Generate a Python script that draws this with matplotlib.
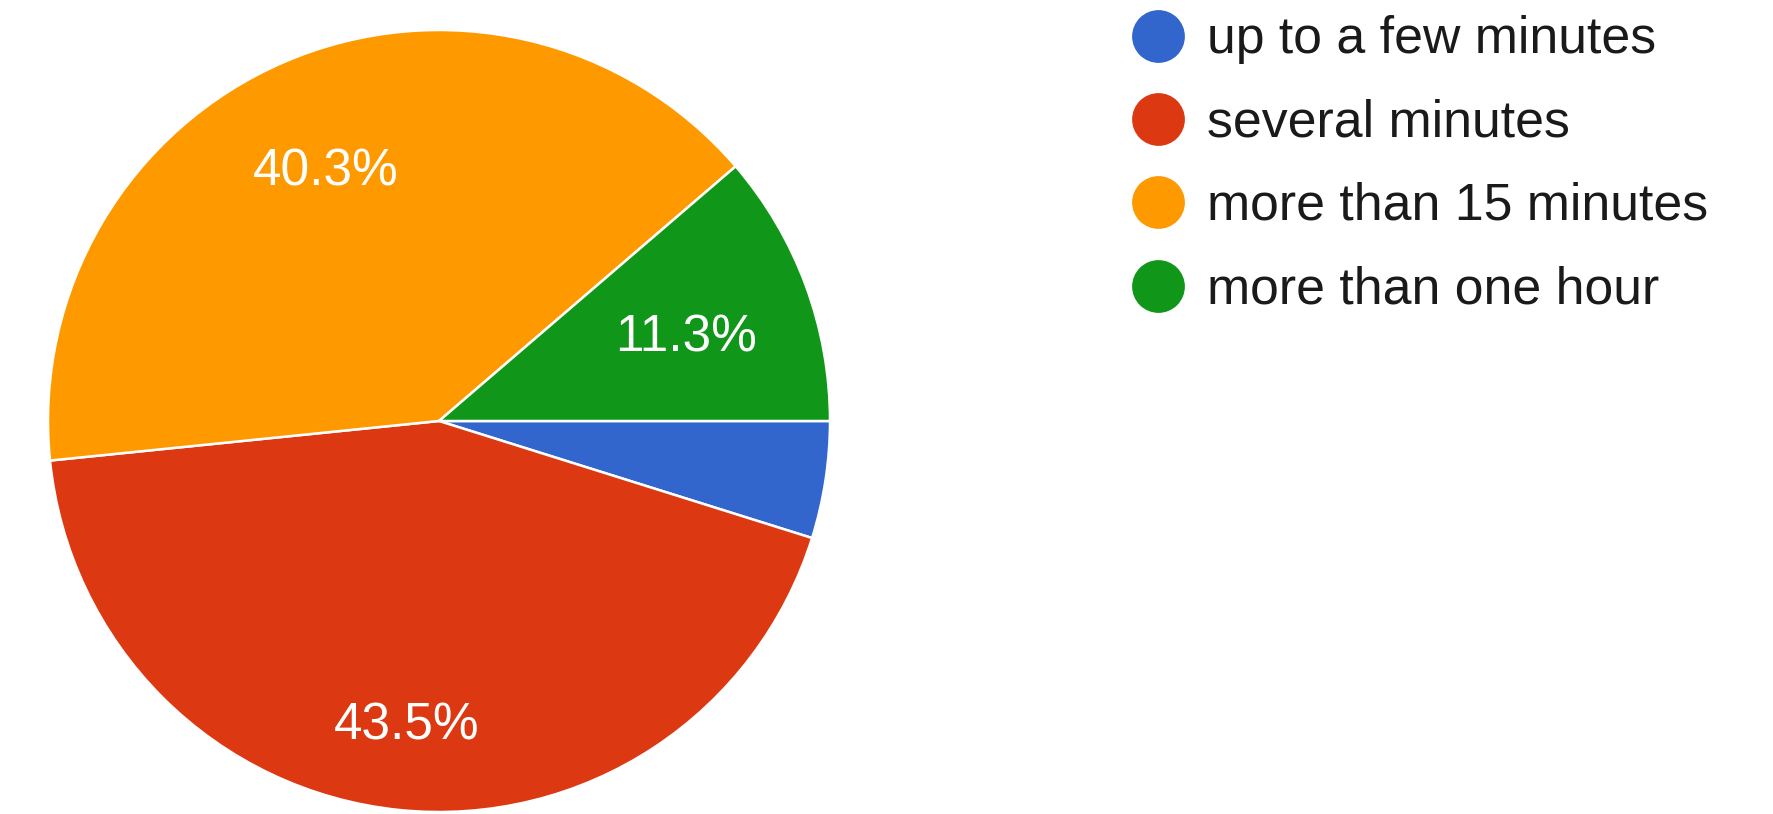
import matplotlib
matplotlib.use("Agg")
import numpy as np
import matplotlib.pyplot as plt

# survey answers (counts out of 124 responses)
labels = ["up to a few minutes", "several minutes", "more than 15 minutes", "more than one hour"]
counts = [6, 54, 50, 14]
colors = ["#3366cc", "#dc3912", "#ff9900", "#109618"]

plt.rcParams["font.family"] = ["Liberation Sans", "DejaVu Sans"]

W, H = 1773, 814
cx, cy, R = 439, H - 421, 391
fig = plt.figure(figsize=(W / 100, H / 100), dpi=100)
ax = fig.add_axes([0, 0, 1, 1])

wedges, texts = ax.pie(
    counts,
    colors=colors,
    startangle=0,
    counterclock=False,
    center=(cx, cy),
    radius=R,
    wedgeprops=dict(edgecolor="white", linewidth=1.8),
)

# percentage labels, google puts them at slightly different depths
label_dist = [0.72, 0.76, 0.72, 0.68]
total = sum(counts)
for w, n, d in zip(wedges, counts, label_dist):
    pct = 100 * n / total
    if pct < 5:
        continue
    mid = np.radians((w.theta1 + w.theta2) / 2)
    x = cx + R * d * np.cos(mid)
    y = cy + R * d * np.sin(mid)
    ax.text(x - 2, y - 23, f"{pct:.1f}%", color="white", fontsize=37,
            ha="center", va="baseline")

ax.set_xlim(0, W)
ax.set_ylim(0, H)
ax.set_aspect("equal")
ax.axis("off")

# legend drawn by hand, Google Forms style
y0 = H - 36
step = 83.2
for i, (lab, c) in enumerate(zip(labels, colors)):
    y = y0 - i * step
    ax.plot(1158, y, "o", color=c, markersize=38, markeredgewidth=0)
    ax.text(1207, y - 17.5, lab, fontsize=37.3, color="#1a1a1a", va="baseline", ha="left")

fig.savefig("out.png", dpi=100, facecolor="white")
